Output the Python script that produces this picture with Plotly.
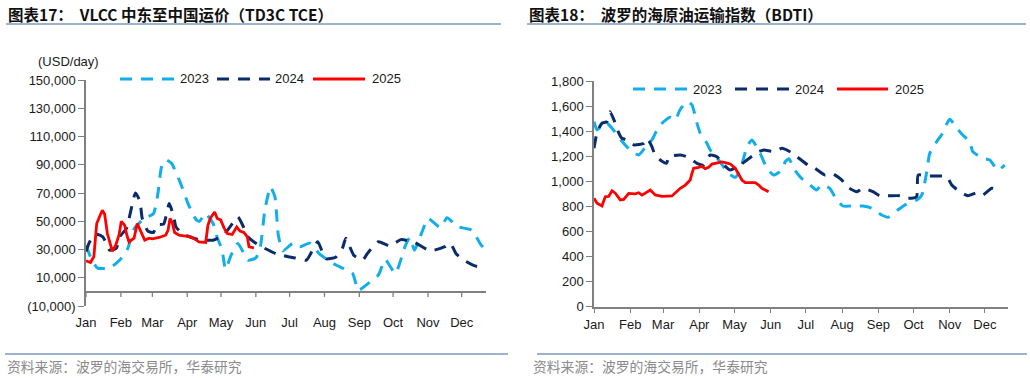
import pandas as pd
import plotly.graph_objects as go

# ---------------- data ----------------
series_names = ["2023", "2024", "2025"]
month_labels = ["Jan", "Feb", "Mar", "Apr", "May", "Jun", "Jul", "Aug", "Sep", "Oct", "Nov", "Dec"]

# Left: VLCC TD3C TCE (USD/day); x = day of year
tce_days_2023 = [0, 4, 10, 21, 30, 37, 43, 52, 60, 64, 67, 71, 76, 84, 91, 98, 101, 106, 113, 116, 121, 124, 129, 135,
                 138, 144, 151, 155, 159, 164, 168, 171, 175, 184, 190, 199, 208, 221, 237, 242, 249, 260, 266, 275,
                 284, 288, 292, 299, 304, 315, 321, 330, 343, 351, 355]
tce_vals_2023 = [33000, 24800, 17000, 16800, 22500, 30500, 45000, 52000, 55400, 70000, 88000, 93500, 91000, 77000,
                 62000, 51000, 50000, 55600, 48400, 40000, 29500, 16000, 26000, 34300, 30700, 22500, 24000, 32000,
                 58000, 74300, 67000, 40000, 29000, 34500, 31900, 34500, 26500, 19500, 13000, 1000, 4800, 12000,
                 23000, 13000, 33000, 38500, 29500, 43000, 52000, 45500, 52500, 46200, 43700, 33500, 30000]

tce_days_2024 = [0, 3, 8, 15, 21, 27, 30, 36, 44, 48, 50, 55, 60, 63, 69, 74, 78, 80, 86, 100, 113, 122, 128, 135,
                 140, 144, 150, 156, 169, 186, 196, 206, 213, 222, 228, 231, 238, 246, 250, 260, 270, 280, 292,
                 306, 319, 324, 329, 338, 348, 355]
tce_vals_2024 = [28500, 35000, 41000, 39000, 29500, 31000, 39000, 45000, 70000, 64000, 52000, 43000, 42000, 47500,
                 48000, 62500, 53000, 46000, 41000, 37000, 36600, 40000, 46000, 53000, 46000, 39000, 35000, 32000,
                 27000, 24000, 22500, 35400, 23500, 24500, 31000, 38000, 26000, 22500, 27000, 35500, 32500, 37000,
                 35000, 29000, 32000, 34500, 27000, 21500, 18000, 20000]

tce_days_2025 = [0, 4, 7, 9.5, 14.5, 16.6, 19, 23.4, 26.4, 29.3, 31.4, 34.4, 36.2, 38.2, 42.7, 45.6, 48.6, 52.2, 56,
                 59, 65, 70.8, 72.9, 74.7, 76.7, 78.8, 82.7, 87.1, 93, 97.5, 100.4, 106.4, 108.4, 110.8, 114.4, 116.7,
                 119.7, 122.7, 125.6, 130, 134, 136.9, 140.4, 143.4, 144.9, 149.3]
tce_vals_2025 = [22000, 20800, 25000, 48400, 57800, 55000, 41300, 28800, 33000, 40100, 50000, 47000, 40600, 35400,
                 38000, 48400, 43000, 36600, 38000, 37500, 38500, 40100, 43500, 52000, 49000, 42000, 40100, 39800,
                 39000, 37000, 35400, 35000, 47200, 52500, 56600, 52000, 51000, 45300, 41300, 40600, 46000, 43000,
                 42000, 39000, 31900, 31200]

# Right: BDTI index
bdti_days_2023 = [0, 2.6, 7.7, 11.1, 15.4, 23, 30.7, 38.2, 46.1, 49.5, 53.8, 58.1, 64.9, 69.4, 73.4, 79.4, 83.7, 88,
                  90.8, 96.5, 99.3, 105, 115, 120.7, 124.9, 130.7, 134.9, 142, 147.7, 153.5, 160.5, 163.4, 166.5,
                  171.6, 177.4, 181.6, 190.2, 194.5, 201.5, 205.8, 212.6, 220.3, 229.7, 237.4, 245.9, 251.1, 259.6,
                  265.6, 275.8, 280.1, 284.1, 286.9, 293.8, 296.9, 304, 310, 315.1, 321.1, 323.7, 332.2, 338.2, 345,
                  351]
bdti_vals_2023 = [1475, 1410, 1450, 1463, 1423, 1330, 1250, 1210, 1300, 1330, 1409, 1463, 1510, 1489, 1569, 1635, 1610,
                  1463, 1383, 1303, 1250, 1190, 1064, 1032, 1090, 1276, 1330, 1223, 1104, 1050, 1090, 1156, 1180,
                  1090, 1024, 997, 931, 971, 944, 877, 803, 803, 803, 785, 731, 713, 771, 811, 851, 891, 1064, 1223,
                  1330, 1369, 1495, 1423, 1369, 1316, 1236, 1184, 1170, 1090, 1130]

bdti_days_2024 = [0, 2.6, 6.8, 11.1, 13.7, 17.1, 21.3, 23.9, 28.2, 34.2, 42.7, 45.3, 49.5, 52.1, 58.1, 62.1, 63.8,
                  73.7, 79.4, 88, 93.7, 99.3, 105, 111, 116.4, 124.9, 130.7, 140.6, 145.2, 153.7, 160.5, 167.4, 173.4,
                  182.7, 188.7, 197.3, 203.2, 211.8, 216, 224.6, 229.7, 238.3, 244.2, 252.8, 261.3, 268.1, 275.6, 277,
                  284.4, 292.9, 301.5, 305.7, 312.6, 319.4, 327.1, 332.2, 339.9, 346.7]
bdti_vals_2024 = [1263, 1390, 1463, 1476, 1555, 1489, 1383, 1343, 1330, 1290, 1303, 1343, 1276, 1210, 1160, 1144, 1196,
                  1210, 1196, 1144, 1130, 1210, 1196, 1130, 1090, 1130, 1170, 1236, 1250, 1236, 1263, 1236, 1196,
                  1130, 1104, 1050, 1064, 1010, 957, 917, 944, 917, 885, 885, 885, 864, 877, 1050, 1042, 1042, 1037,
                  970, 917, 885, 909, 891, 945, 928]

bdti_days_2025 = [0, 2.6, 6.8, 9.6, 12.5, 15.4, 18.2, 22.5, 25.4, 29.6, 35.3, 38.2, 41, 45.3, 48.1, 52.3, 58.1, 66.6,
                  69.4, 73.7, 78, 82.2, 83.7, 85.1, 89.4, 92.2, 95, 98, 100.8, 106.5, 109.3, 112.1, 116.4, 120.7,
                  123.6, 126.4, 129.2, 133.5, 137.7, 140.7, 143.5, 149.2]
bdti_vals_2025 = [864, 825, 803, 877, 880, 925, 905, 851, 855, 904, 900, 909, 890, 917, 930, 891, 880, 883, 905, 944,
                  970, 1010, 1064, 1104, 1112, 1120, 1101, 1112, 1138, 1149, 1155, 1149, 1138, 1104, 1050, 1010, 989,
                  989, 989, 970, 944, 917]

# ---------------- helpers ----------------
BASE = pd.Timestamp("2025-01-01")


def to_dates(days):
    return [BASE + pd.Timedelta(days=float(d)) for d in days]


month_ticks = [pd.Timestamp(2025, m, 1) for m in range(1, 13)]

W, H = 1030, 378


def px(x):
    return x / W


def py(y):
    return 1 - y / H


colors = {"2023": "#12AEEC", "2024": "#0B2C6A", "2025": "#FF0000"}
dashes = {"2023": "12px,9px", "2024": "12px,9px", "2025": "solid"}
widths = {"2023": 3, "2024": 3, "2025": 2.8}

FONT = "Liberation Sans, Arial, Noto Sans CJK SC"
CJK = "Noto Sans CJK SC, Liberation Sans"
AXIS_GREY = "#808080"

fig = go.Figure()

left_data = {"2023": (tce_days_2023, tce_vals_2023),
             "2024": (tce_days_2024, tce_vals_2024),
             "2025": (tce_days_2025, tce_vals_2025)}
right_data = {"2023": (bdti_days_2023, bdti_vals_2023),
              "2024": (bdti_days_2024, bdti_vals_2024),
              "2025": (bdti_days_2025, bdti_vals_2025)}

for ax, data in (("1", left_data), ("2", right_data)):
    for name in series_names:
        d, v = data[name]
        fig.add_trace(go.Scatter(
            x=to_dates(d), y=v, mode="lines", name=name, showlegend=False,
            xaxis="x" if ax == "1" else "x2", yaxis="y" if ax == "1" else "y2",
            line=dict(color=colors[name], width=widths[name], dash=dashes[name],
                      shape="spline" if name != "2025" else "linear",
                      smoothing=0.5 if name != "2025" else None),
        ))

left_end = BASE + pd.Timedelta(days=355.6)
right_end = BASE + pd.Timedelta(days=354)

tce_ticks = list(range(-10000, 150001, 20000))
tce_ticktext = [f"({abs(t):,})" if t < 0 else f"{t:,}" for t in tce_ticks]

fig.update_layout(
    width=W, height=H, autosize=False,
    margin=dict(l=0, r=0, t=0, b=0, autoexpand=False),
    paper_bgcolor="white", plot_bgcolor="white",
    font=dict(family=FONT, size=13, color="#1a1a1a"),
    xaxis=dict(domain=[px(86), px(486)], anchor="y", type="date", automargin=False,
               range=[BASE, left_end], tickvals=month_ticks, ticktext=month_labels,
               ticks="outside", ticklen=0, showline=False, showgrid=False, zeroline=False,
               ticklabelstandoff=4, tickfont=dict(size=13)),
    yaxis=dict(domain=[py(306), py(80)], anchor="x", range=[-10000, 150000], automargin=False,
               tickvals=tce_ticks, ticktext=tce_ticktext, ticks="outside", ticklen=6,
               tickcolor=AXIS_GREY, tickwidth=1.3, showline=True, linecolor=AXIS_GREY, linewidth=1.5,
               showgrid=False, zeroline=True, zerolinecolor=AXIS_GREY, zerolinewidth=1.5,
               tickfont=dict(size=13)),
    xaxis2=dict(domain=[px(594), px(1008.3)], anchor="y2", type="date", automargin=False,
                range=[BASE, right_end], tickvals=month_ticks, ticktext=month_labels,
                ticks="outside", ticklen=5, tickcolor=AXIS_GREY, tickwidth=1.3,
                showline=True, linecolor=AXIS_GREY, linewidth=1.5, showgrid=False, zeroline=False,
                tickfont=dict(size=13)),
    yaxis2=dict(domain=[py(306.7), py(81)], anchor="x2", range=[0, 1800], dtick=200, tickformat=",",
                automargin=False,
                ticks="outside", ticklen=6, tickcolor=AXIS_GREY, tickwidth=1.3,
                showline=True, linecolor=AXIS_GREY, linewidth=1.5, showgrid=False, zeroline=False,
                tickfont=dict(size=13)),
)

shapes = []
# month tick marks on the zero line of the left chart
for t in month_ticks:
    shapes.append(dict(type="line", xref="x", yref="y", x0=t, x1=t, ysizemode="pixel", yanchor=0,
                       y0=0, y1=-5, line=dict(color=AXIS_GREY, width=1.3)))

# title underlines and footer rules
rule_color = "#9DB2CC"
for x0, x1, y in ((6, 501, 24), (527, 1026, 24), (5, 508, 354), (537, 1027, 354)):
    shapes.append(dict(type="line", xref="paper", yref="paper", x0=px(x0), x1=px(x1), y0=py(y), y1=py(y),
                       line=dict(color=rule_color, width=2)))

# legend keys
legend_left = {"2023": (120, 175, 178), "2024": (217, 270, 273), "2025": (313, 365, 370)}
legend_right = {"2023": (633, 687, 691), "2024": (735, 789, 793), "2025": (837, 888, 893)}
annotations = []
for pos, ly in ((legend_left, 79), (legend_right, 89)):
    for name in series_names:
        x0, x1, tx = pos[name]
        shapes.append(dict(type="line", xref="paper", yref="paper", x0=px(x0), x1=px(x1), y0=py(ly), y1=py(ly),
                           line=dict(color=colors[name], width=widths[name] if name != "2025" else 3,
                                     dash=dashes[name])))
        annotations.append(dict(text=name, xref="paper", yref="paper", x=px(tx), y=py(ly), xanchor="left",
                                yanchor="middle", showarrow=False, font=dict(size=13, family=FONT)))

titles = [("图表17：  VLCC 中东至中国运价（TD3C TCE）", 6), ("图表18：  波罗的海原油运输指数（BDTI）", 527)]
for text, x in titles:
    annotations.append(dict(text=f"<b>{text}</b>", xref="paper", yref="paper", x=px(x), y=py(14),
                            xanchor="left", yanchor="middle", showarrow=False,
                            font=dict(size=15.5, family=CJK, color="#111111")))

for x in (5, 531):
    annotations.append(dict(text="资料来源：波罗的海交易所，华泰研究", xref="paper", yref="paper", x=px(x), y=py(366),
                            xanchor="left", yanchor="middle", showarrow=False,
                            font=dict(size=13.8, family=CJK, color="#8a8a8a")))

annotations.append(dict(text="(USD/day)", xref="paper", yref="paper", x=px(36), y=py(61.5), xanchor="left",
                        yanchor="middle", showarrow=False, font=dict(size=13, family=FONT)))

fig.update_layout(shapes=shapes, annotations=annotations)

fig.write_html("out.html", config={"displayModeBar": False},
               post_script="document.body.style.margin='0px';document.body.style.overflow='hidden';")
